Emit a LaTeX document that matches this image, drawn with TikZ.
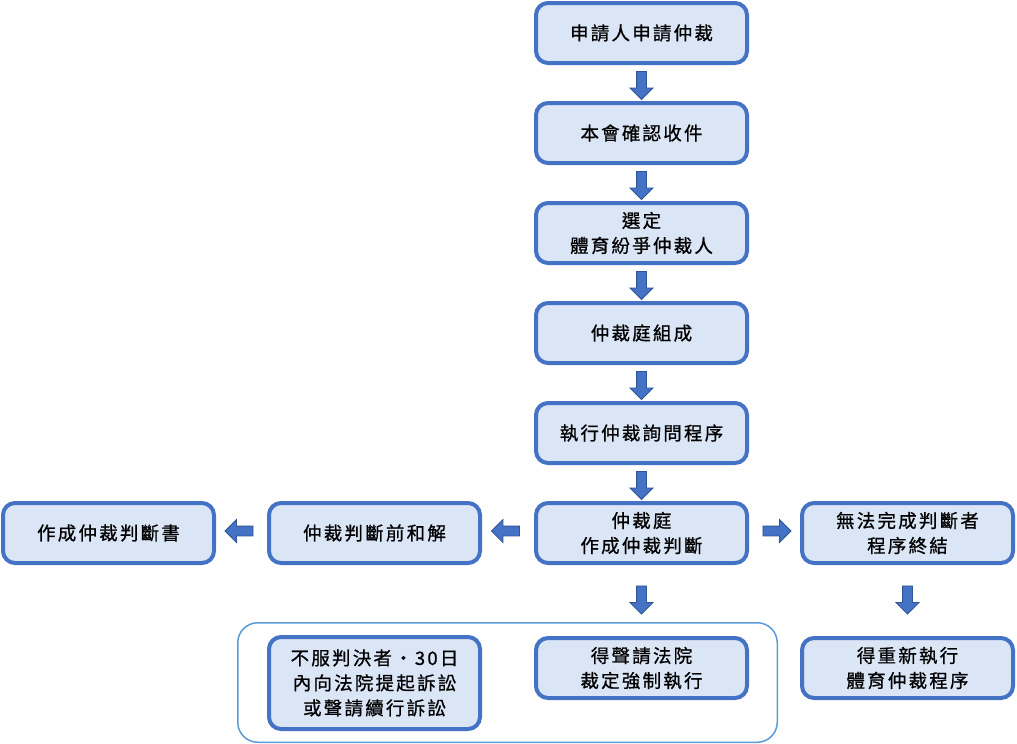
\documentclass[tikz,border=0pt]{standalone}
\usepackage{fontspec}
\usetikzlibrary{shapes.arrows,calc}
\newfontfamily\cjkfont[LetterSpace=12,FakeBold=0.8]{Noto Sans CJK TC}
\definecolor{boxblue}{HTML}{4472C4}
\definecolor{boxfill}{HTML}{DAE5F5}
\definecolor{arrowedge}{HTML}{2F5597}
\definecolor{groupblue}{HTML}{5B9BD5}
\tikzset{
  flowbox/.style={draw=boxblue, line width=4pt, fill=boxfill, rounded corners=12pt,
    minimum width=211pt, minimum height=60pt, align=center, inner sep=2pt,
    font=\cjkfont\fontsize{18.5}{25}\selectfont, text=black},
  blockarrow/.style={single arrow, draw=arrowedge, line width=0.8pt, fill=boxblue,
    inner xsep=0pt, inner ysep=4.5pt, text width=0pt, single arrow head extend=6.5pt,
    single arrow tip angle=90, minimum height=28pt},
  groupbox/.style={draw=groupblue, line width=1.5pt, rounded corners=20pt,
    minimum width=539.5pt, minimum height=119.5pt}
}
\begin{document}
\begin{tikzpicture}[x=1pt,y=-1pt]
\useasboundingbox (0,0) rectangle (1017,744);
\node[groupbox] (grp) at (507.5,682.5) {};
\node[flowbox] (b1) at (641.5,33) {申請人申請仲裁};
\node[flowbox] (b2) at (641.5,133) {本會確認收件};
\node[flowbox] (b3) at (641.5,233) {選定\\體育紛爭仲裁人};
\node[flowbox] (b4) at (641.5,333) {仲裁庭組成};
\node[flowbox] (b5) at (641.5,433) {執行仲裁詢問程序};
\node[flowbox] (b6) at (641.5,533) {仲裁庭\\作成仲裁判斷};
\node[flowbox] (bl) at (374.5,533) {仲裁判斷前和解};
\node[flowbox] (bll) at (108.5,533) {作成仲裁判斷書};
\node[flowbox] (br) at (907.5,533) {無法完成判斷者\\程序終結};
\node[flowbox] (bc) at (641.5,668) {得聲請法院\\裁定強制執行};
\node[flowbox] (brr) at (907.5,668) {得重新執行\\體育仲裁程序};
\node[flowbox, minimum height=92pt] (bsue) at (374.5,683) {不服判決者·30日\\內向法院提起訴訟\\或聲請續行訴訟};
\node[blockarrow, rotate=-90] (a1) at ($(b1.south)!0.5!(b2.north)$) {};
\node[blockarrow, rotate=-90] (a2) at ($(b2.south)!0.5!(b3.north)$) {};
\node[blockarrow, rotate=-90] (a3) at ($(b3.south)!0.5!(b4.north)$) {};
\node[blockarrow, rotate=-90] (a4) at ($(b4.south)!0.5!(b5.north)$) {};
\node[blockarrow, rotate=-90] (a5) at ($(b5.south)!0.5!(b6.north)$) {};
\node[blockarrow, rotate=-90] (a6) at ($(b6.south)!0.5!(bc.north)+(0,-3)$) {};
\node[blockarrow, rotate=-90] (a7) at ($(br.south)!0.5!(brr.north)+(0,-3)$) {};
\node[blockarrow, rotate=180] (a8) at ($(b6.west)!0.5!(bl.east)+(0,-2)$) {};
\node[blockarrow, rotate=180] (a9) at ($(bl.west)!0.5!(bll.east)+(0,-2)$) {};
\node[blockarrow] (a10) at ($(b6.east)!0.5!(br.west)+(0,-2)$) {};
\end{tikzpicture}
\end{document}
